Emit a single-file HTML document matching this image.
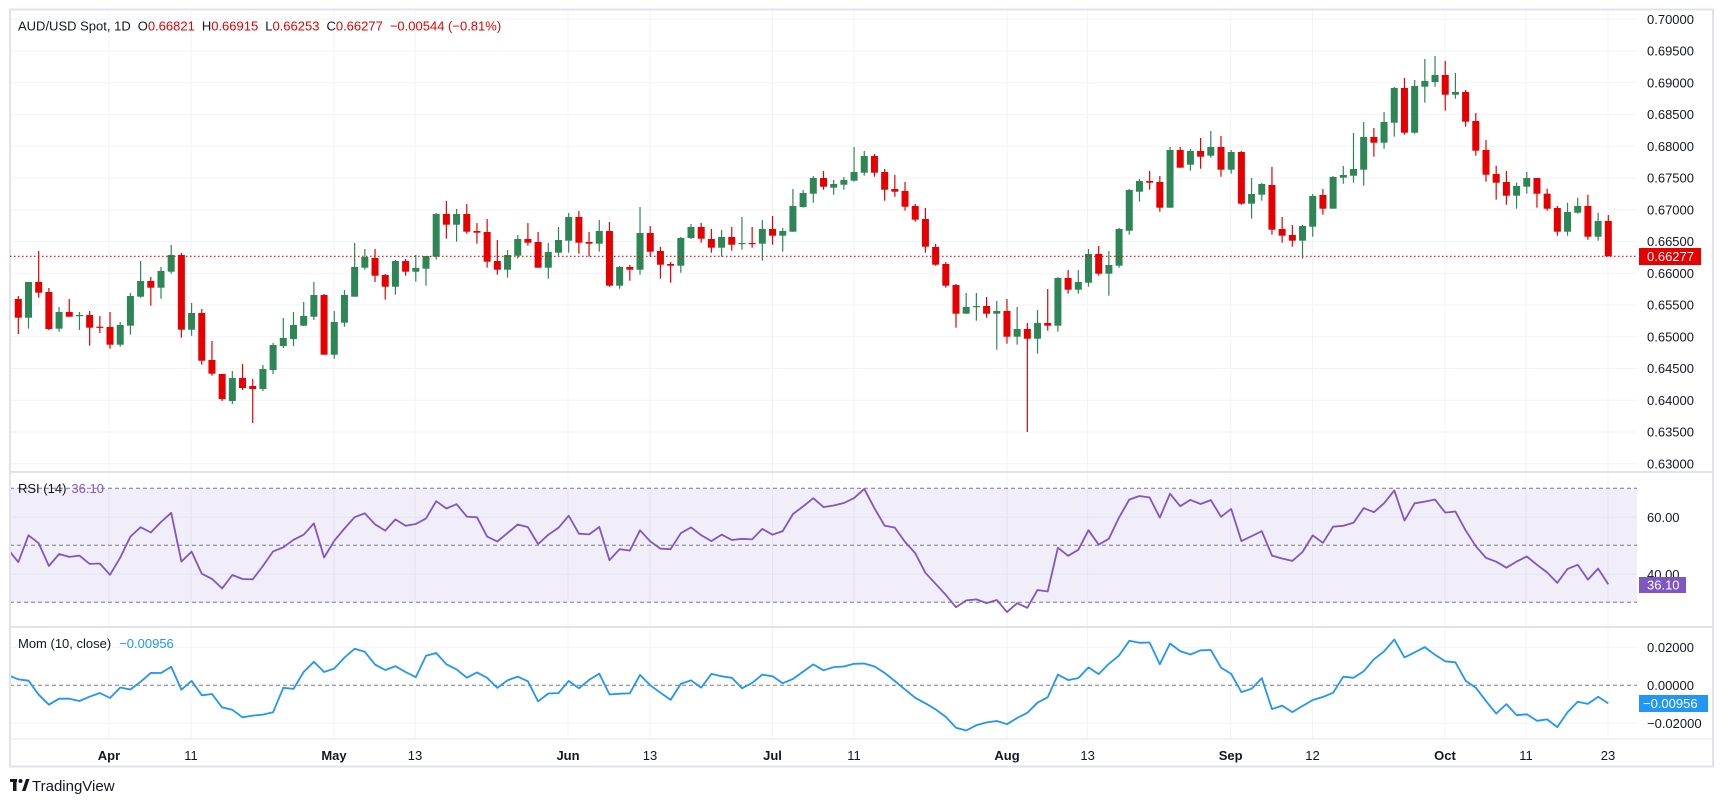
<!DOCTYPE html>
<html><head><meta charset="utf-8">
<style>
html,body{margin:0;padding:0;background:#fff;}
svg{display:block;font-family:"Liberation Sans",sans-serif;}
</style></head>
<body>
<svg id="s" width="1723" height="803" viewBox="0 0 1723 803" xmlns="http://www.w3.org/2000/svg">
<rect x="0" y="0" width="1723" height="803" fill="#fff"/>
<defs>
<clipPath id="pc"><rect x="10" y="10" width="1627" height="757"/></clipPath>
</defs>
<g id="grid"></g>
<rect x="10" y="488.3" width="1627" height="114" fill="#7e57c2" fill-opacity="0.1"/>
<g id="lvl"></g>
<g id="cand" clip-path="url(#pc)"></g>
<g id="lines" clip-path="url(#pc)"></g>
<rect x="10" y="9.5" width="1703" height="757" fill="none" stroke="#e0e3eb" stroke-width="2"/>
<line x1="10" y1="472" x2="1713" y2="472" stroke="#e0e3eb" stroke-width="2"/>
<line x1="10" y1="627" x2="1713" y2="627" stroke="#e0e3eb" stroke-width="2"/>
<line x1="10" y1="739" x2="1713" y2="739" stroke="#e0e3eb" stroke-width="1"/>
<text x="18" y="30.5" font-size="13" fill="#131722">AUD/USD Spot, 1D<tspan dx="7">O</tspan><tspan fill="#e60000">0.66821</tspan><tspan dx="7">H</tspan><tspan fill="#e60000">0.66915</tspan><tspan dx="7">L</tspan><tspan fill="#e60000">0.66253</tspan><tspan dx="7">C</tspan><tspan fill="#e60000">0.66277</tspan><tspan dx="7" fill="#e60000">−0.00544 (−0.81%)</tspan></text>
<text x="18" y="492.8" font-size="13" fill="#131722">RSI (14)<tspan dx="5" fill="#7e57c2">36.10</tspan></text>
<text x="18" y="648" font-size="13" fill="#131722">Mom (10, close)<tspan dx="8" fill="#2196f3">−0.00956</tspan></text>
<g font-size="13" fill="#131722">
<text x="1647" y="23.8">0.70000</text>
<text x="1647" y="55.5">0.69500</text>
<text x="1647" y="87.3">0.69000</text>
<text x="1647" y="119">0.68500</text>
<text x="1647" y="150.8">0.68000</text>
<text x="1647" y="182.5">0.67500</text>
<text x="1647" y="214.3">0.67000</text>
<text x="1647" y="246">0.66500</text>
<text x="1647" y="277.8">0.66000</text>
<text x="1647" y="309.5">0.65500</text>
<text x="1647" y="341.3">0.65000</text>
<text x="1647" y="373">0.64500</text>
<text x="1647" y="404.8">0.64000</text>
<text x="1647" y="436.5">0.63500</text>
<text x="1647" y="468.3">0.63000</text>
<text x="1647" y="521.8">60.00</text>
<text x="1647" y="578.8">40.00</text>
<text x="1647" y="651.8">0.02000</text>
<text x="1647" y="689.8">0.00000</text>
<text x="1647" y="727.8">−0.02000</text>
</g>
<line x1="10" y1="256.3" x2="1637" y2="256.3" stroke="#e60000" stroke-width="1.2" stroke-dasharray="1.5,2.5"/>
<rect x="1639" y="248" width="62" height="17" fill="#e60000"/>
<text x="1647" y="261" font-size="13" fill="#fff">0.66277</text>
<rect x="1639" y="577" width="47" height="16" fill="#7e57c2"/>
<text x="1647" y="589.5" font-size="13" fill="#fff">36.10</text>
<rect x="1639" y="695" width="69" height="17" fill="#2196f3"/>
<text x="1643" y="708" font-size="13" fill="#fff">−0.00956</text>
<g font-size="13" fill="#131722" text-anchor="middle">
<text x="109" y="760" font-weight="bold">Apr</text>
<text x="191" y="760">11</text>
<text x="334" y="760" font-weight="bold">May</text>
<text x="415" y="760">13</text>
<text x="568" y="760" font-weight="bold">Jun</text>
<text x="650" y="760">13</text>
<text x="772.5" y="760" font-weight="bold">Jul</text>
<text x="854" y="760">11</text>
<text x="1007" y="760" font-weight="bold">Aug</text>
<text x="1087.6" y="760">13</text>
<text x="1230.7" y="760" font-weight="bold">Sep</text>
<text x="1312.5" y="760">12</text>
<text x="1445" y="760" font-weight="bold">Oct</text>
<text x="1526" y="760">11</text>
<text x="1608" y="760">23</text>
</g>
<g fill="#131722">
<rect x="10" y="779" width="7" height="3"/>
<rect x="13" y="779" width="3.5" height="12"/>
<circle cx="20.5" cy="781" r="2"/>
<polygon points="22,791 26,779 29.5,779 25.5,791"/>
</g>
<text x="32" y="791" font-size="15" fill="#131722">TradingView</text>
</svg>
<script>
var C=[[299,317.7,296,334],[317.7,282,282,328.7],[282,292.7,251,297.7],[292,329,288,330],[328.7,312,307,331.7],[312,316.7,299,316.7],[315.5,315,312,330],[315,327.7,311,345.7],[326.7,327.3,316,333],[327,344.7,312,348.7],
[344.7,325,322,346.7],[325.7,296,293,334.7],[296.7,281,261,297.7],[281,287.7,277,305.7],[287.7,271,267,298.7],[271.7,255,245,273.7],[255,329.7,253,337.7],[329.7,313,303,335.7],[313,360.7,309,364.7],[360,373.7,341,375.7],
[374,399,374,401],[401,378,371,404],[378,388,364,390],[386,389,379,423],[389,369,365,391],[370,345,343,374],[346,338,318,348],[339,325,312,346],[325.7,316,302,326],[316.7,295,282,320],
[295,354.7,294,354.7],[354.7,322,311,358.7],[322.7,295,290,326.7],[296.7,267,243,296.7],[267.7,257,249,269.7],[258,275.7,249,282],[275,286.7,274,299.7],[286.7,261,260,294.7],[261,271.7,259,275.7],[271.7,268,255,281.7],
[268.7,256,256,285.7],[256.7,214,213,259.7],[214,224.7,201,238.7],[224.7,214,209,241.7],[214,231.7,204,233.7],[231,232.7,223,243.7],[232,261.7,219,267.7],[261,269.7,240,274.7],[269.7,255,250,277.7],[255.7,239,235,258.7],
[239,242.7,223,245.7],[242,267.7,232,267.7],[267.7,252,243,278.7],[252.7,240,227,255.7],[240.7,217,213,252.7],[217,242.7,211,253.7],[242,243.7,232,256.7],[243.7,231,220,251.7],[231,285.7,222,286.7],[285.7,267,266,288.7],
[267,269.7,265,280.7],[269.7,233,207,274.7],[233,251.7,226,256.7],[251,264.7,247,278.7],[264,265.7,262,282.7],[265.7,238,237,272.7],[238,227,224,239],[227,238.7,223,242.7],[239,247.7,229,252.7],[247.7,237,230,256.7],
[237,244.7,227,250.7],[243.5,243,217,249.7],[243,243.7,227,247.7],[243.7,229,220,260.7],[229,235.7,216,244.7],[235.7,231,228,251.7],[231.7,206,189,231.7],[207,193,190,207.7],[193.7,178,176,202.7],[178,186.7,171,189.7],
[187.7,184,180,194.7],[184.7,180,177,189.7],[180.7,172,147,181.7],[172.7,156,151,175.7],[156,172.7,154,176.7],[172,189.7,169,200.7],[189,191.7,175,196.7],[191,206.7,182,210.7],[206,219.7,204,221.7],[219,246.7,208,252.7],
[247,264.7,244,265.7],[264,285.7,262,287.7],[285,313.7,284,327.7],[313.7,307,293,313.7],[306.5,306,293,320.7],[306,313.7,297,317.7],[313.7,311,301,349.7],[311,336.7,299,343.7],[336.7,329,307,344.7],[329,338.7,323,432],
[338.7,323,310,353.7],[323,325.7,289,330.7],[325.7,278,277,331.7],[278,289.7,270,293.7],[289.7,282,270,293.7],[282.7,254,249,286.7],[254,273.7,246,275.7],[273.7,265,251,295.7],[265.7,229,228,267.7],[230.7,190,189,234.7],
[191.7,181,179,201.7],[181,182.7,171,189.7],[182,207.7,176,211.7],[207.7,150,147,207.7],[150,167.7,147,167.7],[164.7,151,149,170.7],[151,156.7,138,168.7],[155.7,147,131,157.7],[147,169.7,136,176.7],[169.7,152,150,173.7],
[152,203.7,151,204.7],[203.7,194,178,218.7],[194.7,184,183,200.7],[185,229.7,167,234.7],[229,235.7,217,242.7],[235,240.7,225,246.7],[240.7,226,225,258.7],[226.7,196,194,236.7],[195,208.7,189,214.7],[208.7,177,176,208.7],
[177.7,175,166,183.7],[175.7,169,133,182.7],[169.7,137,122,185.7],[137,142.7,128,156.7],[142.7,122,112,148.7],[122.7,88,87,136.7],[88,132.7,78,134.7],[132.7,86,80,133.7],[86.7,81,59,102.7],[82,75,56,86.7],
[75,94.7,61,110.7],[94.7,92,73,98.7],[92,121.7,90,126.7],[121,150.7,113,155.7],[150,174.7,140,181.7],[174,182.7,165.7,199.7],[182,195.7,171,204.7],[195.7,186,182.7,208.7],[186.7,178,172,193.7],[178,193.7,178,207.7],
[193.7,208.7,188.7,210.7],[208,231.7,206,235.7],[231.7,212,202.7,235.7],[212.7,206,197.7,213.7],[206,236.7,194.7,239.7],[236.7,221,212.7,240.7],[221,256.3,215,256.3]];
var NS="http://www.w3.org/2000/svg";
function el(p,t,a){var e=document.createElementNS(NS,t);for(var k in a)e.setAttribute(k,a[k]);p.appendChild(e);return e;}
var X0=18.3,DX=(1608.3-18.3)/156;
function X(i){return X0+i*DX;}
var grid=document.getElementById('grid');
var gc="#f0f3fa";
for(var k=0;k<=14;k++){var y=19.3+k*31.75;el(grid,'line',{x1:10,x2:1637,y1:y,y2:y,stroke:gc,'stroke-width':1});}
[517.3,574.3,647.3,723.3].forEach(function(y){el(grid,'line',{x1:10,x2:1637,y1:y,y2:y,stroke:gc,'stroke-width':1});});
[109,191,334,415,568,650,772.5,854,1007,1087.6,1230.7,1312.5,1445,1526,1608].forEach(function(x){el(grid,'line',{x1:x,x2:x,y1:10,y2:739,stroke:gc,'stroke-width':1});});
var lvl=document.getElementById('lvl');
[488.3,545.3,602.3,685.3].forEach(function(y){el(lvl,'line',{x1:10,x2:1637,y1:y,y2:y,stroke:'#787b86','stroke-width':1,'stroke-dasharray':'4,3'});});
var cg=document.getElementById('cand');
var G="#2e8656",R="#e60000";
C.forEach(function(c,i){
  var x=X(i),col=c[1]<c[0]?G:R;
  var t=Math.min(c[0],c[1]),b=Math.max(c[0],c[1]);if(b-t<1.2){b=t+1.2;}
  el(cg,'line',{x1:x,x2:x,y1:c[2],y2:c[3],stroke:col,'stroke-width':1.2});
  el(cg,'rect',{x:x-3.5,y:t,width:7,height:b-t,fill:col});
});
var mom=[[9.9,676]];
var first=[679.3,680.7,694.7,704.7,698.7,698.7,701,696.7,693,698];
for(var i=0;i<C.length;i++){
  var y;
  if(i<10)y=first[i];else y=685.3-(C[i-10][1]-C[i][1])*0.2992;
  mom.push([X(i),y]);
}
var ag=6,al=7.6,rsi=[[9.9,551.7]];
for(var i=0;i<C.length;i++){
  if(i>0){var ch=C[i-1][1]-C[i][1];var g=ch>0?ch:0,l=ch<0?-ch:0;ag=(ag*13+g)/14;al=(al*13+l)/14;}
  var r=100-100/(1+ag/al);
  rsi.push([X(i),545.3-(r-50)*2.85]);
}
var lg=document.getElementById('lines');
function pl(pts,col){el(lg,'polyline',{points:pts.map(function(p){return p[0].toFixed(1)+','+p[1].toFixed(1);}).join(' '),fill:'none',stroke:col,'stroke-width':1.8,'stroke-linejoin':'round'});}
pl(rsi,'#7e57c2');pl(mom,'#2196f3');
</script>
</body></html>
